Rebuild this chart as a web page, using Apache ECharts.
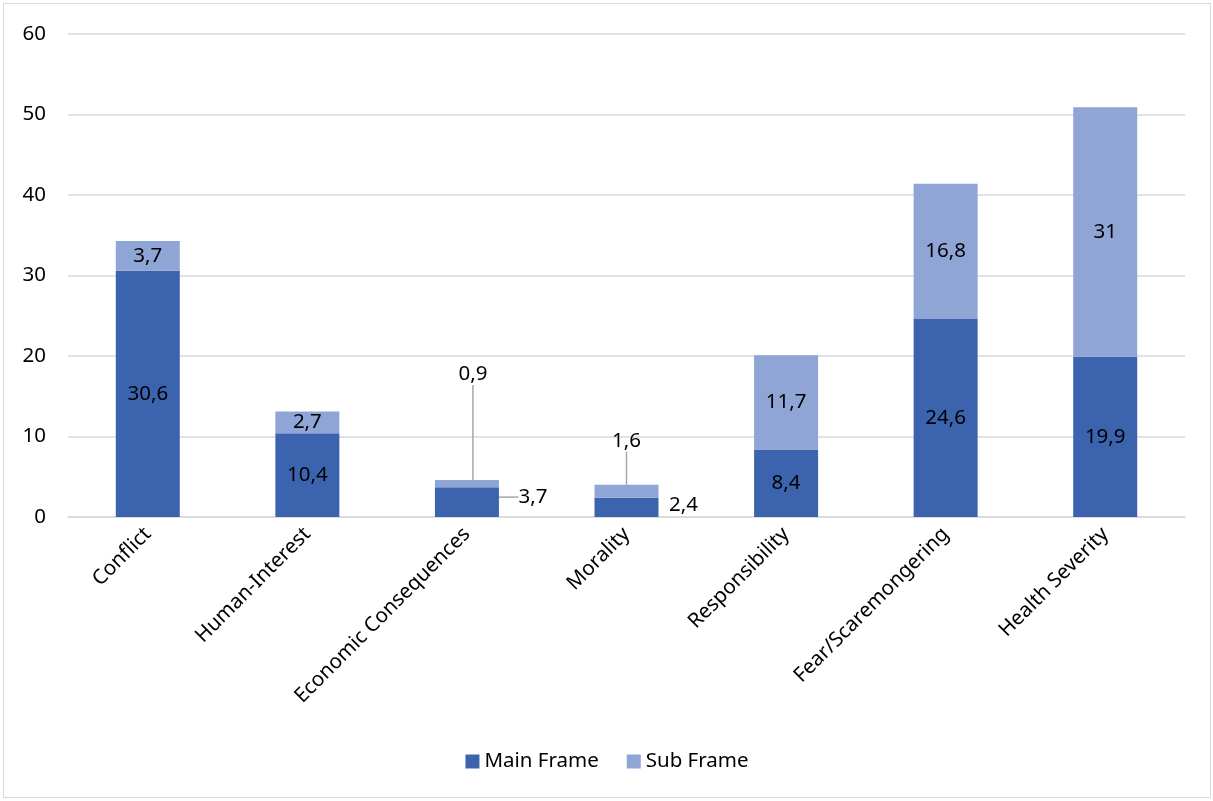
<!DOCTYPE html>
<html>
<head>
<meta charset="utf-8">
<script src="https://cdn.jsdelivr.net/npm/echarts@6/dist/echarts.min.js"></script>
<style>
  html, body { margin: 0; padding: 0; background: #fff; }
  #main { position: absolute; left: 3px; top: 3px; width: 1206px; height: 793px; border: 1px solid #d9d9d9; }
</style>
</head>
<body>
<div id="main"></div>
<script>
var categories = ['Conflict', 'Human-Interest', 'Economic Consequences', 'Morality', 'Responsibility', 'Fear/Scaremongering', 'Health Severity'];
var mainFrame = [30.6, 10.4, 3.7, 2.4, 8.4, 24.6, 19.9];
var subFrame = [3.7, 2.7, 0.9, 1.6, 11.7, 16.8, 31];
var yTicks = [0, 10, 20, 30, 40, 50, 60];

var font = 'Noto Sans';
var fs = 20.5;
var chart = echarts.init(document.getElementById('main'));

function fmt(p) { return String(p.value).replace('.', ','); }

// small bars get their labels moved out, with a leader line
var moved = {
  main: { 2: { dx: 66, dy: -5, line: true }, 3: { dx: 57, dy: -2, line: false } },
  sub: { 2: { dx: 6, dy: -109, line: true }, 3: { dx: 0, dy: -50, line: true } }
};

function mkData(vals, key) {
  return vals.map(function (v, i) {
    var m = moved[key][i];
    if (!m) return v;
    return { value: v, labelLine: { show: m.line, lineStyle: { color: '#a6a6a6', width: 1.5 } } };
  });
}

function layout(key) {
  return function (p) {
    var m = moved[key][p.dataIndex];
    if (!m) return {};
    return { dx: m.dx, dy: m.dy };
  };
}

var labelStyle = { show: true, position: 'inside', color: '#000', fontFamily: font, fontSize: fs, formatter: fmt };

chart.setOption({
  animation: false,
  textStyle: { fontFamily: font },
  grid: { left: 64, right: 25, top: 30, bottom: 280 },
  legend: {
    bottom: 20,
    left: 'center',
    itemWidth: 14,
    itemHeight: 14,
    itemGap: 28,
    icon: 'rect',
    textStyle: { color: '#000', fontSize: fs, fontFamily: font },
    data: ['Main Frame', 'Sub Frame']
  },
  xAxis: {
    type: 'category',
    data: categories,
    axisTick: { show: false },
    axisLine: { lineStyle: { color: '#d9d9d9', width: 1.5 } },
    axisLabel: { rotate: 45, interval: 0, margin: 14, color: '#000', fontSize: fs, fontFamily: font }
  },
  yAxis: {
    type: 'value',
    min: yTicks[0],
    max: yTicks[yTicks.length - 1],
    interval: 10,
    axisLine: { show: false },
    axisTick: { show: false },
    splitLine: { lineStyle: { color: '#d9d9d9', width: 1.5 } },
    axisLabel: { margin: 22, color: '#000', fontSize: fs, fontFamily: font }
  },
  series: [
    {
      name: 'Main Frame',
      type: 'bar',
      stack: 'total',
      barWidth: 64,
      itemStyle: { color: '#3c64ae' },
      label: labelStyle,
      labelLine: { show: false },
      labelLayout: layout('main'),
      data: mkData(mainFrame, 'main')
    },
    {
      name: 'Sub Frame',
      type: 'bar',
      stack: 'total',
      barWidth: 64,
      itemStyle: { color: '#8fa5d6' },
      label: labelStyle,
      labelLine: { show: false },
      labelLayout: layout('sub'),
      data: mkData(subFrame, 'sub')
    }
  ]
});
</script>
</body>
</html>
